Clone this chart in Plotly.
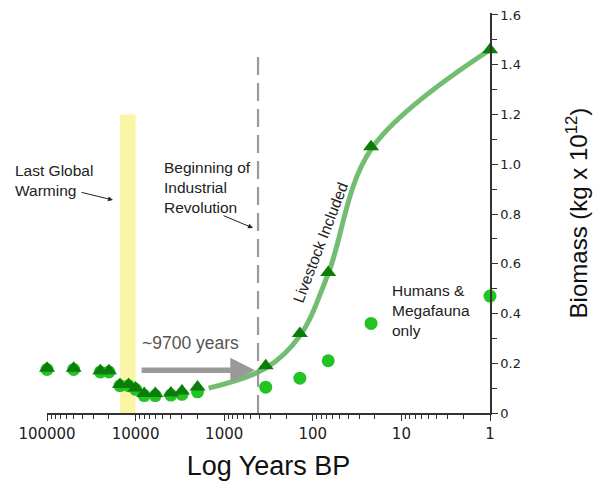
import numpy as np
import plotly.graph_objects as go

# ---- data ----
years = [100000, 50000, 25000, 20000, 15000, 12000, 10000, 8000, 6000,
         4000, 3000, 2000, 340, 140, 67, 22, 1]
livestock = [0.18, 0.18, 0.17, 0.17, 0.115, 0.115, 0.10, 0.078, 0.078,
             0.08, 0.088, 0.105, 0.19, 0.32, 0.565, 1.07, 1.46]
humans = [0.175, 0.175, 0.165, 0.165, 0.11, 0.11, 0.095, 0.07, 0.07,
          0.072, 0.075, 0.085, 0.104, 0.14, 0.21, 0.36, 0.47]
curve_years = [1500, 340, 140, 67, 22, 1]
curve_vals = [0.10, 0.18, 0.31, 0.56, 1.06, 1.46]

warming_band = [15000, 10000]
band_top = 1.2
industrial_year = 415
dash_top = 1.46
arrow_from = 8900
arrow_y = 0.172

x_ticks = [100000, 10000, 1000, 100, 10, 1]
x_ticktext = ["100000", "10000", "1000", "100", "10", "1"]
y_ticks = [0, 0.2, 0.4, 0.6, 0.8, 1.0, 1.2, 1.4, 1.6]
y_ticktext = ["0", "0.2", "0.4", "0.6", "0.8", "1.0", "1.2", "1.4", "1.6"]

# page body has an 8px default margin, so the figure is drawn 8px smaller
OFF = 8
W, H = 603 - OFF, 483 - OFF
ML, MT = 47 - OFF, 13 - OFF
PW, PH = 443, 400
MR, MB = W - ML - PW, H - MT - PH


def px(x):
    """reference-picture x pixel -> paper coordinate"""
    return (x - OFF - ML) / PW


def py(y):
    """reference-picture y pixel -> paper coordinate"""
    return (MT + PH - (y - OFF)) / PH


FONT = "Liberation Sans, Arial, sans-serif"
TICKFONT = "DejaVu Sans, Verdana, sans-serif"
AFS = 15.5

fig = go.Figure()

# yellow band (last global warming)
fig.add_trace(go.Scatter(
    x=[warming_band[0], warming_band[1], warming_band[1], warming_band[0], warming_band[0]],
    y=[0, 0, band_top, band_top, 0],
    fill="toself", fillcolor="#fbf6a6", line=dict(width=0),
    mode="lines", hoverinfo="skip", showlegend=False))

# dashed vertical line (industrial revolution)
fig.add_trace(go.Scatter(
    x=[industrial_year, industrial_year], y=[0, dash_top],
    mode="lines", line=dict(color="#999999", width=2.2, dash="18px,8px"),
    hoverinfo="skip", showlegend=False))

# fitted curve
fig.add_trace(go.Scatter(
    x=curve_years, y=curve_vals, mode="lines",
    line=dict(color="rgba(100,182,100,0.9)", width=5, shape="spline", smoothing=1.0),
    hoverinfo="skip", showlegend=False))

# humans & megafauna
fig.add_trace(go.Scatter(
    x=years, y=humans, mode="markers",
    marker=dict(symbol="circle", size=13, color="#22c322"),
    cliponaxis=False, showlegend=False))

# livestock included
fig.add_trace(go.Scatter(
    x=years, y=livestock, mode="markers",
    marker=dict(symbol="triangle-up", size=14, color="#0a7d0a"),
    cliponaxis=False, showlegend=False))

annotations = [
    # gray arrow
    dict(x=np.log10(industrial_year), y=arrow_y, xref="x", yref="y",
         ax=np.log10(arrow_from), ay=arrow_y, axref="x", ayref="y",
         showarrow=True, arrowhead=2, arrowsize=0.9, arrowwidth=5.5,
         standoff=3, arrowcolor="#999999", text=""),
    dict(x=px(190), y=py(343), xref="paper", yref="paper", showarrow=False,
         xanchor="center", yanchor="middle",
         text="~9700 years", font=dict(family=FONT, size=17.5, color="#555555")),
    dict(x=px(13), y=py(180), xref="paper", yref="paper", showarrow=False,
         xanchor="left", yanchor="middle", align="left",
         text="Last Global<br>Warming", font=dict(family=FONT, size=AFS, color="#222222")),
    dict(x=px(113), y=py(200), xref="paper", yref="paper",
         ax=-33, ay=-8, showarrow=True, arrowhead=2, arrowsize=1, arrowwidth=1,
         arrowcolor="#222222", text=""),
    dict(x=px(162), y=py(187), xref="paper", yref="paper", showarrow=False,
         xanchor="left", yanchor="middle", align="left",
         text="Beginning of<br>Industrial<br>Revolution",
         font=dict(family=FONT, size=AFS, color="#222222")),
    dict(x=px(253), y=py(228), xref="paper", yref="paper",
         ax=-31, ay=-13, showarrow=True, arrowhead=2, arrowsize=1, arrowwidth=1,
         arrowcolor="#222222", text=""),
    dict(x=px(320), y=py(242), xref="paper", yref="paper", showarrow=False,
         xanchor="center", yanchor="middle",
         text="Livestock Included", textangle=-69,
         font=dict(family=FONT, size=AFS, color="#222222")),
    dict(x=px(390), y=py(310), xref="paper", yref="paper", showarrow=False,
         xanchor="left", yanchor="middle", align="left",
         text="Humans &<br>Megafauna<br>only",
         font=dict(family=FONT, size=AFS, color="#222222")),
]

fig.update_layout(
    width=W, height=H,
    margin=dict(l=ML, r=MR, t=MT, b=MB),
    paper_bgcolor="white", plot_bgcolor="white",
    showlegend=False,
    annotations=annotations,
    xaxis=dict(
        type="log", range=[5, 0], automargin=False,
        tickvals=x_ticks, ticktext=x_ticktext,
        showgrid=False, zeroline=False,
        showline=True, linecolor="#333333", linewidth=1.5,
        ticks="outside", ticklen=6, tickcolor="#333333", tickwidth=1.2,
        minor=dict(ticks="outside", ticklen=4, tickcolor="#333333", dtick="D1", showgrid=False),
        tickfont=dict(family=TICKFONT, size=15, color="#222222"),
        ticklabeloverflow="allow",
        title=dict(text="Log Years BP", standoff=14,
                   font=dict(family=FONT, size=27, color="#111111")),
    ),
    yaxis=dict(
        side="right", range=[0, 1.608], automargin=False,
        tickvals=y_ticks, ticktext=y_ticktext,
        showgrid=False, zeroline=False,
        showline=True, linecolor="#333333", linewidth=1.5,
        ticks="outside", ticklen=6, tickcolor="#333333", tickwidth=1.2,
        minor=dict(ticks="outside", ticklen=5, tickcolor="#333333", dtick=0.1, showgrid=False),
        tickfont=dict(family=TICKFONT, size=13, color="#222222"),
        ticklabeloverflow="allow",
        title=dict(text="Biomass (kg x 10<sup>12</sup>)", standoff=50,
                   font=dict(family=FONT, size=24, color="#111111")),
    ),
)

fig.write_html("out.html")
